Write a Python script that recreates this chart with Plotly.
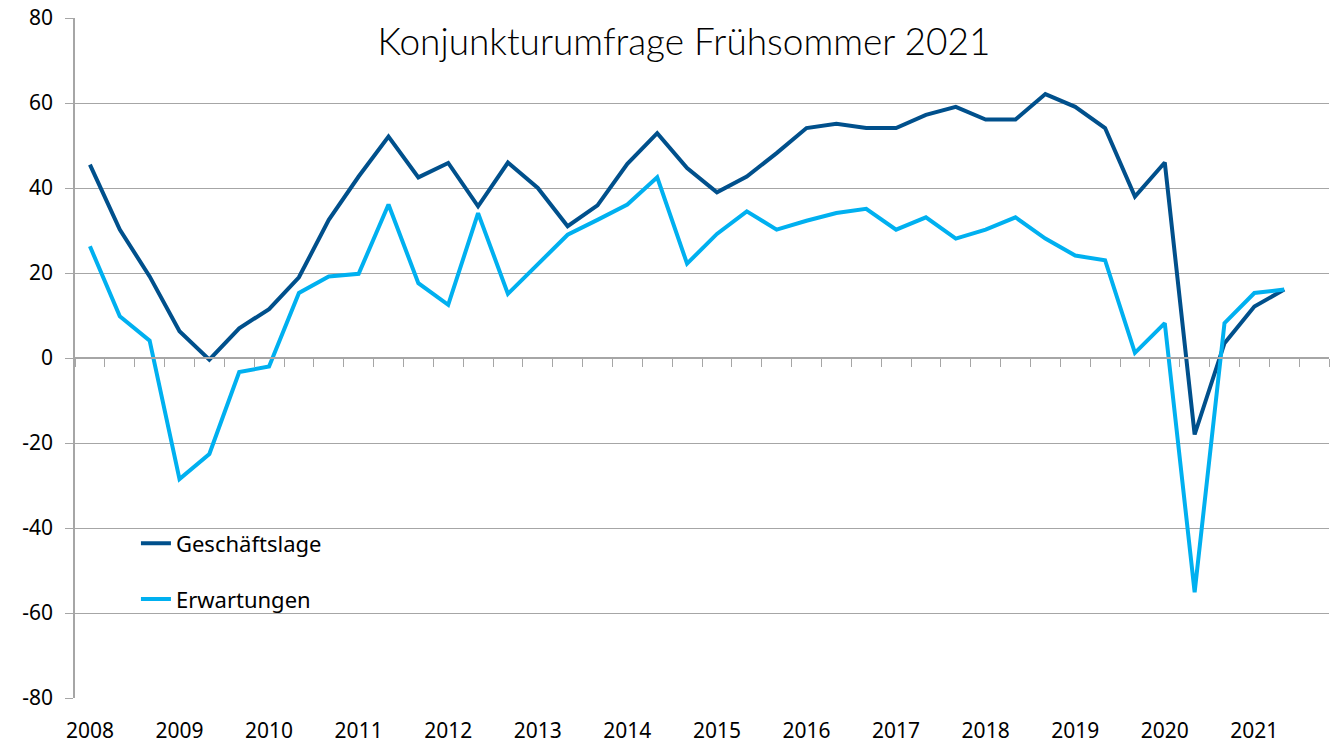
import plotly.graph_objects as go

years = list(range(2008, 2022))
seasons_per_year = 3
n_slots = 42  # 2008..2021, three surveys per year (last slot empty)

geschaeftslage = [45.5, 30.2, 19.2, 6.3, -0.4, 7.0, 11.5, 19.0, 32.5, 42.7, 52.1,
                  42.5, 45.9, 35.7, 46.0, 40.0, 31.0, 35.9, 45.7, 52.9, 44.7, 39.0,
                  42.7, 48.2, 54.1, 55.1, 54.1, 54.1, 57.2, 59.1, 56.1, 56.1, 62.1,
                  59.1, 54.1, 38.0, 46.0, -18.0, 3.5, 12.1, 16.1]
erwartungen = [26.3, 9.8, 4.1, -28.5, -22.6, -3.3, -2.0, 15.3, 19.2, 19.8, 36.1,
               17.6, 12.5, 34.1, 15.1, 22.0, 29.0, 32.5, 36.1, 42.5, 22.2, 29.2,
               34.5, 30.2, 32.3, 34.1, 35.1, 30.2, 33.1, 28.1, 30.2, 33.1, 28.1,
               24.1, 23.0, 1.2, 8.2, -55.1, 8.2, 15.3, 16.1]
y_ticks = [-80, -60, -40, -20, 0, 20, 40, 60, 80]
y_tick_text = [str(v) for v in y_ticks]

x = list(range(len(geschaeftslage)))
year_pos = [i * seasons_per_year for i in range(len(years))]
year_lbl = [str(y) for y in years]
boundaries = [k + 0.5 for k in range(-1, n_slots)]

DARK = "#00508C"
LIGHT = "#00B0F0"
GRID = "#A6A6A6"
FONT = "Noto Sans"

fig = go.Figure()
fig.add_trace(go.Scatter(x=x, y=geschaeftslage, mode="lines", name="Geschäftslage",
                         line=dict(color=DARK, width=4), legendgroup="a"))
fig.add_trace(go.Scatter(x=x, y=erwartungen, mode="lines", name="Erwartungen",
                         line=dict(color=LIGHT, width=4), legendgroup="b"))
# invisible trace to activate the zero-line axis with category boundary ticks
fig.add_trace(go.Scatter(x=[0], y=[0], xaxis="x2", mode="markers",
                         marker=dict(opacity=0), showlegend=False, hoverinfo="skip"))

fig.update_layout(
    width=1337, height=745,
    margin=dict(l=75, r=8, t=18, b=47, autoexpand=False),
    paper_bgcolor="white", plot_bgcolor="white",
    font=dict(family=FONT, size=21, color="black"),
    title=dict(text="Konjunkturumfrage Frühsommer 2021",
               font=dict(family="Lato", size=37, weight=300, color="black"),
               x=0.4856, xref="paper", xanchor="center",
               y=0.965, yref="paper", yanchor="middle"),
    xaxis=dict(range=[-0.5, n_slots - 0.5], tickvals=year_pos, ticktext=year_lbl,
               showgrid=False, zeroline=False, showline=False, ticks="",
               automargin=False, ticklabelstandoff=18, tickfont=dict(size=21)),
    xaxis2=dict(range=[-0.5, n_slots - 0.5], overlaying="x", anchor="free",
                position=0.5, side="bottom", tickvals=boundaries, showticklabels=False,
                ticks="outside", ticklen=8, tickcolor=GRID, tickwidth=1,
                showline=True, linecolor=GRID, linewidth=1.5, showgrid=False,
                zeroline=False, automargin=False),
    yaxis=dict(range=[-80, 80], tickvals=y_ticks, ticktext=y_tick_text,
               showgrid=True, gridcolor=GRID, automargin=False,
               gridwidth=1, zeroline=False, showline=True, linecolor=GRID,
               linewidth=1.5, ticks="outside", ticklen=8, tickcolor=GRID,
               ticklabelstandoff=8, tickfont=dict(size=21)),
    legend=dict(x=0.0486, y=0.258, xanchor="left", yanchor="top",
                bgcolor="rgba(0,0,0,0)", tracegroupgap=24,
                font=dict(family=FONT, size=22)),
    showlegend=True,
)

fig.write_html("out.html")
